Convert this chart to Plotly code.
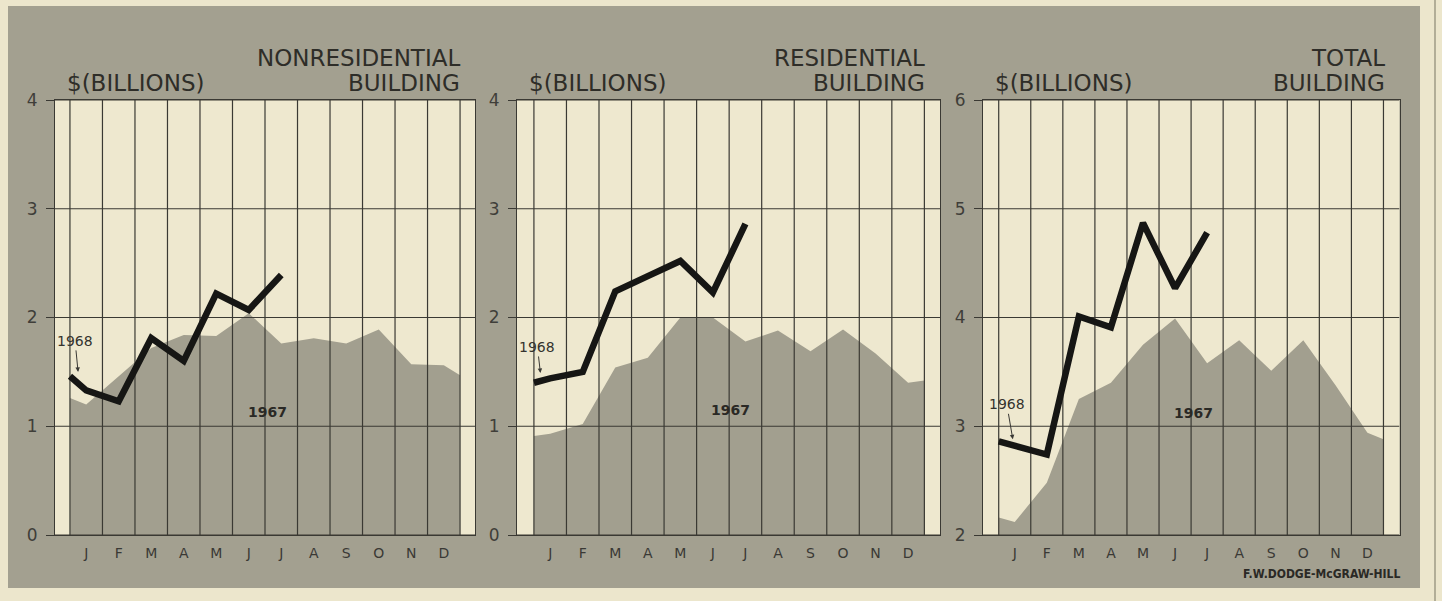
import plotly.graph_objects as go

# ---- data: monthly construction contract values, $ billions ----
MONTHS = ["J", "F", "M", "A", "M", "J", "J", "A", "S", "O", "N", "D"]

NONRES_1967 = [1.20, 1.46, 1.72, 1.84, 1.83, 2.04, 1.76, 1.81, 1.76, 1.89, 1.57, 1.56]
NONRES_1967_EDGES = [1.26, 1.47]          # values at the Jan 1 / Dec 31 edges
NONRES_1968 = [1.33, 1.23, 1.81, 1.60, 2.22, 2.07, 2.39]
NONRES_1968_START = 1.46                  # carried in from December 1967

RES_1967 = [0.93, 1.02, 1.54, 1.63, 2.00, 2.00, 1.78, 1.88, 1.69, 1.89, 1.67, 1.40]
RES_1967_EDGES = [0.91, 1.42]
RES_1968 = [1.44, 1.50, 2.24, 2.38, 2.52, 2.23, 2.86]
RES_1968_START = 1.40

TOTAL_1967 = [2.12, 2.48, 3.25, 3.40, 3.75, 3.99, 3.58, 3.79, 3.51, 3.79, 3.38, 2.94]
TOTAL_1967_EDGES = [2.16, 2.88]
TOTAL_1968 = [2.82, 2.74, 4.01, 3.91, 4.87, 4.27, 4.78]
TOTAL_1968_START = 2.86

PANEL_TITLES = [["NONRESIDENTIAL", "BUILDING"], ["RESIDENTIAL", "BUILDING"], ["TOTAL", "BUILDING"]]
Y_TICKS = [[0, 1, 2, 3, 4], [0, 1, 2, 3, 4], [2, 3, 4, 5, 6]]

# ---- styling ----
W, H = 1442, 601
PAGE = "#ECE6CC"
PANEL = "#A3A090"
PLOT_BG = "#EEE8CF"
AREA = "#A29F8F"
INK = "#2E2D28"
GRID = "#3A3933"
FONT = "DejaVu Sans"

# plot rectangles in pixels: (left, right, top, bottom)
BOXES = [(55, 475, 100, 535), (517, 940, 100, 535), (983, 1399.5, 100, 535)]
X_RANGES = [[-0.46, 12.46], [-0.52, 12.48], [-0.49, 12.5]]


def px(x):
    return x / W


def py(y):
    return 1 - y / H


series = [
    (NONRES_1967, NONRES_1967_EDGES, NONRES_1968, NONRES_1968_START),
    (RES_1967, RES_1967_EDGES, RES_1968, RES_1968_START),
    (TOTAL_1967, TOTAL_1967_EDGES, TOTAL_1968, TOTAL_1968_START),
]

mid = [i + 0.5 for i in range(12)]
fig = go.Figure()
layout = dict(
    template="none",
    width=W, height=H, margin=dict(l=0, r=0, t=0, b=0, pad=0), autosize=False,
    paper_bgcolor=PAGE, plot_bgcolor="rgba(0,0,0,0)", showlegend=False,
    font=dict(family=FONT, color=INK),
)

shapes = [
    dict(type="rect", xref="paper", yref="paper", x0=px(8), x1=px(1420), y0=py(588), y1=py(6),
         fillcolor=PANEL, line=dict(width=0), layer="below"),
    dict(type="line", xref="paper", yref="paper", x0=px(1435), x1=px(1435), y0=0, y1=1,
         line=dict(color="#8C8874", width=1.2)),
]

annotations = []
for i, ((v67, e67, v68, s68), box, xr, yt) in enumerate(zip(series, BOXES, X_RANGES, Y_TICKS)):
    n = "" if i == 0 else str(i + 1)
    xa, ya = "x" + n, "y" + n

    # cream chart paper behind each panel
    shapes.append(dict(
        type="rect", xref=xa + " domain", yref=ya + " domain", x0=0, x1=1, y0=0, y1=1,
        fillcolor=PLOT_BG, line=dict(width=0), layer="below",
    ))

    # 1967 shaded area
    fig.add_trace(go.Scatter(
        x=[0] + mid + [12], y=[e67[0]] + v67 + [e67[1]],
        xaxis=xa, yaxis=ya, mode="lines", line=dict(width=0, color=AREA),
        fill="tozeroy", fillcolor=AREA, hoverinfo="skip",
    ))

    # grid drawn over the shaded area
    gx, gy = [], []
    for v in yt:
        gx += [xr[0], xr[1], None]
        gy += [v, v, None]
    for b in range(13):
        gx += [b, b, None]
        gy += [yt[0], yt[-1], None]
    fig.add_trace(go.Scatter(
        x=gx, y=gy, xaxis=xa, yaxis=ya, mode="lines",
        line=dict(width=1.2, color=GRID), hoverinfo="skip",
    ))

    # 1968 line
    fig.add_trace(go.Scatter(
        x=[0] + mid[:len(v68)], y=[s68] + v68,
        xaxis=xa, yaxis=ya, mode="lines",
        line=dict(width=6.5, color="#161614"), hoverinfo="skip",
    ))

    l, r, t, b = box
    layout["xaxis" + n] = dict(
        domain=[px(l), px(r)], range=xr, anchor=ya, automargin=False,
        tickvals=mid, ticktext=MONTHS, ticks="", showgrid=False, zeroline=False,
        showline=True, mirror=True, linecolor=GRID, linewidth=1.2,
        tickfont=dict(size=14, color="#3A3935"), ticklabelstandoff=5,
        fixedrange=True,
    )
    layout["yaxis" + n] = dict(
        domain=[py(b), py(t)], range=[yt[0], yt[-1]], anchor=xa, automargin=False,
        tickvals=yt, ticks="outside", ticklen=8, tickwidth=1.2, tickcolor=GRID,
        showgrid=False, zeroline=False, showline=True, mirror=True,
        linecolor=GRID, linewidth=1.2,
        tickfont=dict(size=17, color="#3F3E39"), ticklabelstandoff=5,
        fixedrange=True,
    )

    # panel headings
    annotations.append(dict(
        xref="paper", yref="paper", x=px(l + 10), y=py(83), text="$(BILLIONS)",
        showarrow=False, xanchor="left", yanchor="middle",
        font=dict(size=23, color=INK),
    ))
    annotations.append(dict(
        xref="paper", yref="paper", x=px(r - 13), y=py(58), text=PANEL_TITLES[i][0],
        showarrow=False, xanchor="right", yanchor="middle",
        font=dict(size=23, color=INK),
    ))
    annotations.append(dict(
        xref="paper", yref="paper", x=px(r - 13), y=py(83), text=PANEL_TITLES[i][1],
        showarrow=False, xanchor="right", yanchor="middle",
        font=dict(size=23, color=INK),
    ))

# year labels
label_1967 = [(6.08, 1.13), (6.05, 1.15), (6.09, 3.12)]
for i, (x, y) in enumerate(label_1967):
    n = "" if i == 0 else str(i + 1)
    annotations.append(dict(
        xref="x" + n, yref="y" + n, x=x, y=y, text="<b>1967</b>", showarrow=False,
        font=dict(size=14, color="#2A2925"),
    ))

label_1968 = [(0.25, 1.50, -3, -31), (0.2, 1.49, -3, -26), (0.44, 2.88, -6, -35)]
for i, (x, y, ax, ay) in enumerate(label_1968):
    n = "" if i == 0 else str(i + 1)
    annotations.append(dict(
        xref="x" + n, yref="y" + n, x=x, y=y, text="1968", showarrow=True,
        ax=ax, ay=ay, arrowhead=2, arrowsize=0.9, arrowwidth=1, arrowcolor="#3A3935",
        standoff=0, font=dict(size=14, color="#34332E"),
    ))

annotations.append(dict(
    xref="paper", yref="paper", x=px(1402), y=py(574), text="<b>F.W.DODGE-McGRAW-HILL</b>",
    showarrow=False, xanchor="right", yanchor="middle",
    font=dict(size=12, family="Liberation Sans Narrow, DejaVu Sans Condensed", color="#2A2925"),
))

layout["annotations"] = annotations
layout["shapes"] = shapes

fig.update_layout(**layout)
fig.write_html("out.html", config={"displayModeBar": False})
